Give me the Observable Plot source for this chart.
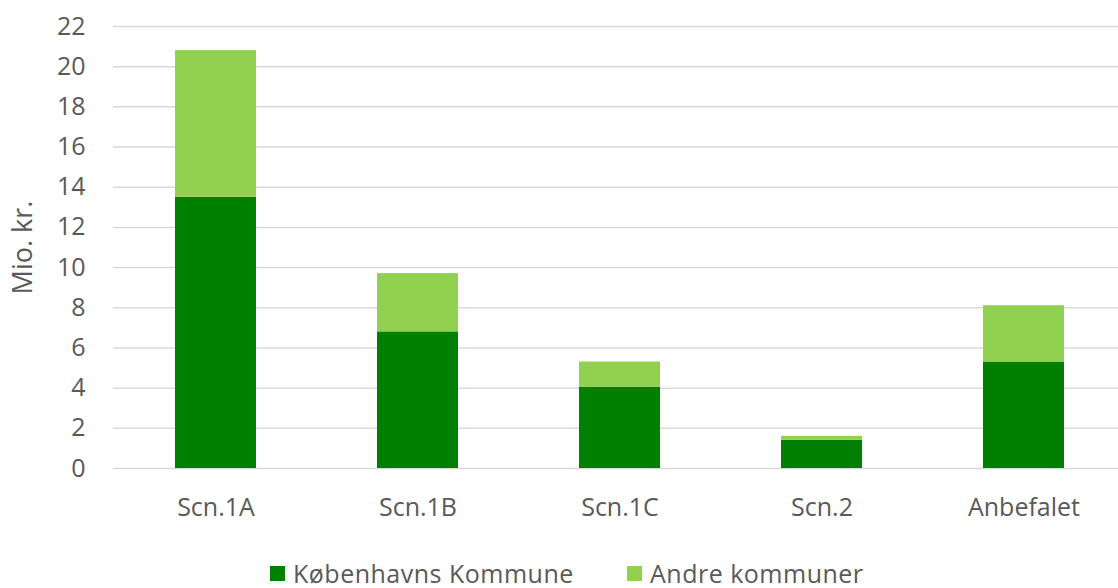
<!DOCTYPE html>
<html><head><meta charset="utf-8">
<script src="https://cdn.jsdelivr.net/npm/d3@7"></script>
<script src="https://cdn.jsdelivr.net/npm/@observablehq/plot@0.6"></script>
<style>
body{margin:0;background:#fff;font-family:"Open Sans",sans-serif;color:#595959;overflow:hidden;}
#legend{position:relative;height:48px;font-size:25px;letter-spacing:0.5px;line-height:28px;}
.item{position:absolute;top:19px;display:flex;align-items:center;gap:8px;white-space:nowrap;}
.sw{width:15px;height:15px;display:inline-block;}
</style>
</head><body><div id="chart"></div><div id="legend"></div>
<script>
const categories = ["Scn.1A", "Scn.1B", "Scn.1C", "Scn.2", "Anbefalet"];
const kobenhavn = [13.5, 6.8, 4.05, 1.4, 5.3];
const andre = [7.3, 2.9, 1.25, 0.2, 2.8];
const series = ["Københavns Kommune", "Andre kommuner"];
const colors = ["#008000", "#92D050"];
const yTicks = [0, 2, 4, 6, 8, 10, 12, 14, 16, 18, 20, 22];
const yLabel = "Mio. kr.";

const data = categories.flatMap((c, i) => [
  {cat: c, series: series[0], value: kobenhavn[i]},
  {cat: c, series: series[1], value: andre[i]}
]);

const chart = Plot.plot({
  width: 1118, height: 540,
  marginTop: 26, marginBottom: 72, marginLeft: 113, marginRight: 0,
  style: {fontFamily: "'Open Sans', sans-serif", color: "#595959", background: "#fff"},
  x: {domain: categories, range: [113, 1126], paddingInner: 0.6, paddingOuter: 0.3, label: null},
  y: {domain: [0, 22], label: null},
  color: {domain: series, range: colors},
  marks: [
    Plot.gridY(yTicks, {stroke: "#d9d9d9", strokeOpacity: 1, strokeWidth: 1.5}),
    Plot.barY(data, {x: "cat", y: "value", fill: "series"}),
    Plot.axisY(yTicks, {tickSize: 0, tickPadding: 28, fontSize: 25, fill: "#595959", label: null}),
    Plot.axisX({tickSize: 0, tickPadding: 30, fontSize: 25, fill: "#595959", label: null, style: {letterSpacing: "1px"}}),
    Plot.text([yLabel], {frameAnchor: "left", textAnchor: "middle", rotate: -90, dx: -90, fontSize: 27, fill: "#595959", style: {letterSpacing: "1.2px"}})
  ]
});
document.getElementById("chart").appendChild(chart);

const legend = document.getElementById("legend");
const legendLeft = [270, 627];
series.forEach((s, i) => {
  const item = document.createElement("div");
  item.className = "item";
  item.style.left = legendLeft[i] + "px";
  const sw = document.createElement("span");
  sw.className = "sw";
  sw.style.background = colors[i];
  const t = document.createElement("span");
  t.textContent = s;
  item.appendChild(sw); item.appendChild(t);
  legend.appendChild(item);
});
</script>
</body></html>
